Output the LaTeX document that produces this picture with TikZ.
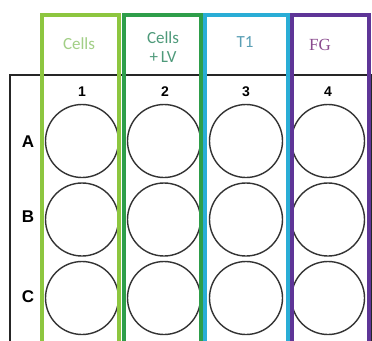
\documentclass[tikz,border=0pt]{standalone}
\usepackage{fontspec}
\setmainfont{Liberation Sans}
\newfontfamily\carlito{Carlito}
\newfontfamily\serifx{Liberation Serif}
\definecolor{cellsc}{HTML}{8DC63F}
\definecolor{cellstxt}{HTML}{A2CF86}
\definecolor{lvc}{HTML}{2E9E4A}
\definecolor{lvtxt}{HTML}{4E9A7A}
\definecolor{t1c}{HTML}{2AADD6}
\definecolor{t1txt}{HTML}{5A9FB5}
\definecolor{fgc}{HTML}{5E3597}
\definecolor{fgtxt}{HTML}{8A4A8E}
\definecolor{wellc}{HTML}{333333}
\tikzset{
  well/.style={circle, draw=wellc, line width=1.4pt, minimum size=73pt, inner sep=0pt},
  colnum/.style={font=\bfseries\fontsize{14}{14}\selectfont, inner sep=0pt},
  rowlab/.style={font=\bfseries\fontsize{17}{17}\selectfont, inner sep=0pt},
  frame/.style={line width=3.8pt},
  grp/.style={font=\carlito\fontsize{17}{19}\selectfont, inner sep=0pt, align=center}
}
\begin{document}
\begin{tikzpicture}[x=1pt,y=-1pt]
\useasboundingbox (0,0) rectangle (372,340);
\clip (0,0) rectangle (372,340);
\fill[white] (0,0) rectangle (372,340);
% plate outline
\draw[line width=1.8pt, black!85] (10,360) -- (10,75) -- (371,75) -- (371,360);
% wells
\foreach \c/\x in {1/82,2/164,3/246,4/328}{
  \foreach \r/\y in {A/141,B/219.5,C/298}{
    \node[well] (w\r\c) at (\x,\y) {};
  }
}
% frames
\draw[frame, cellsc] (42,360) -- (42,15) -- (119,15) -- (119,360);
\draw[frame, lvc] (124,360) -- (124,15) -- (201,15) -- (201,360);
\draw[frame, t1c] (205,360) -- (205,15) -- (288,15) -- (288,360);
\draw[frame, fgc] (292,360) -- (292,15) -- (369,15) -- (369,360);
% group labels
\node[grp, text=cellstxt] (gcells) at (79,44) {Cells};
\node[grp, text=lvtxt] (glv) at (163,47) {Cells\\[0pt]+\,LV};
\node[grp, text=t1txt] (gt1) at (245,42) {T1};
\node[font=\serifx\fontsize{17}{17}\selectfont, text=fgtxt, inner sep=0pt] (gfg) at (320,45) {FG};
% column numbers
\node[colnum] (n1) at (82,92) {1};
\node[colnum] (n2) at (165,92) {2};
\node[colnum] (n3) at (246,92) {3};
\node[colnum] (n4) at (328,92) {4};
% row labels
\node[rowlab] (rA) at (28,142) {A};
\node[rowlab] (rB) at (28,217) {B};
\node[rowlab] (rC) at (28,297) {C};
\end{tikzpicture}
\end{document}
